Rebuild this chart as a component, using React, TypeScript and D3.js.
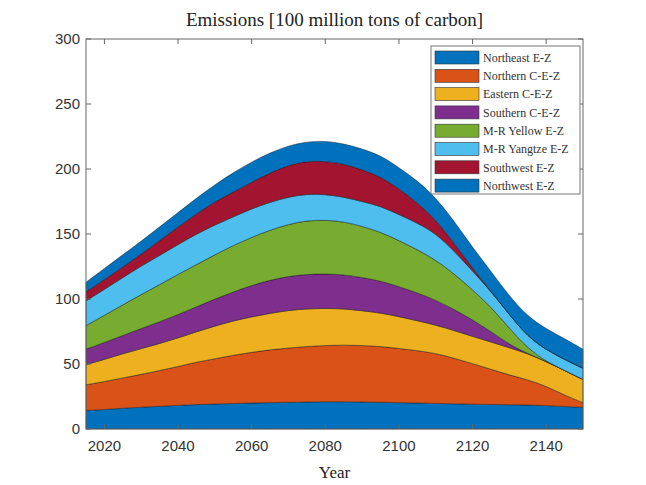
import React, { useEffect, useRef } from 'react';
import * as d3 from 'd3';

// emissions per economic zone, 100 million tons of carbon
const years = [2015, 2020, 2025, 2030, 2035, 2040, 2045, 2050, 2055, 2060, 2065, 2070, 2075, 2080,
  2085, 2090, 2095, 2100, 2105, 2110, 2115, 2120, 2125, 2130, 2135, 2140, 2145, 2150];
const northeast = [14.2, 15, 16, 16.8, 17.4, 18.2, 18.8, 19.2, 19.6, 20, 20.3, 20.5, 20.8, 21,
  21, 20.8, 20.5, 20.3, 20, 19.7, 19.4, 19.1, 18.9, 18.7, 18.5, 18, 17.3, 16.7];
const northern = [19.8, 21.5, 23.3, 25.2, 27.6, 29.8, 32.7, 34.8, 37.2, 39, 40.7, 41.8, 42.7, 43.3,
  43.6, 43.5, 43, 41.7, 40.3, 38.5, 35.1, 31.2, 27.1, 22.8, 19.5, 15, 8.7, 3.6];
const eastern = [15.5, 17, 18.7, 19.8, 20.8, 22, 23.3, 25.2, 26.4, 27.3, 28, 29, 29, 28.5,
  27.9, 26.7, 25.8, 24.5, 23, 21.8, 21.3, 20.9, 21, 21, 20, 19, 19, 17.9];
const southern = [12, 13, 14, 15.5, 16.7, 18, 19.2, 20.8, 22.3, 24.2, 25.5, 26.2, 26.5, 26.5,
  26.3, 25.5, 24.7, 23, 21.5, 19.2, 16.2, 12.8, 8, 2.5, 0, 0, 0, 0];
const yellowRiver = [18, 21, 23.5, 26.2, 28.5, 31, 32.5, 34, 35.7, 37, 38.5, 40, 41.3, 41.5,
  40.7, 39.5, 37.5, 35.5, 33.2, 30.8, 27.5, 23, 19, 12.5, 4, 0, 0, 0];
const yangtze = [19, 20, 21, 22, 22.5, 23, 23.5, 23, 22, 22, 21.5, 21, 20.5, 19.7,
  19, 19, 20, 20, 20.5, 20.5, 17.5, 14.5, 12, 10.5, 9, 9, 8.5, 8.5];
const southwest = [7, 7.5, 8, 9, 11.5, 13.5, 15.5, 18, 19, 20.5, 22.5, 24.5, 25.2, 25.5,
  25.5, 24.5, 22.5, 20, 15.5, 10.5, 6, 2, 0, 0, 0, 0, 0, 0];
const northwest = [7.4, 8.5, 9.5, 10, 10.5, 11, 12, 13, 15, 15.5, 15.5, 15, 15, 15.5,
  15.5, 16, 16.5, 16, 17, 17, 17, 16, 15.5, 14, 15.5, 16, 16, 14.6];

const zoneNames = ['Northeast E-Z', 'Northern C-E-Z', 'Eastern C-E-Z', 'Southern C-E-Z',
  'M-R Yellow E-Z', 'M-R Yangtze E-Z', 'Southwest E-Z', 'Northwest E-Z'];
const zoneColors = ['#0072BD', '#D95319', '#EDB120', '#7E2F8E', '#77AC30', '#4DBEEE', '#A2142F', '#0072BD'];
const xTicks = [2020, 2040, 2060, 2080, 2100, 2120, 2140];
const yTicks = [0, 50, 100, 150, 200, 250, 300];

const W = 646;
const H = 485;
const left = 86;
const right = 583;
const top = 39;
const bottom = 429;

export default function App() {
  const ref = useRef<SVGSVGElement>(null);

  useEffect(() => {
    const zones = [northeast, northern, eastern, southern, yellowRiver, yangtze, southwest, northwest];
    const rows = years.map((year, i) => {
      const row: any = { year };
      zoneNames.forEach((name, k) => (row[name] = zones[k][i]));
      return row;
    });

    const svg = d3.select(ref.current);
    svg.selectAll('*').remove();

    const x = d3.scaleLinear().domain([2015, 2150]).range([left, right]);
    const y = d3.scaleLinear().domain([0, 300]).range([bottom, top]);

    // basis keeps the stacked edges in order, so bands that run out stay closed
    const stacked = d3.stack().keys(zoneNames)(rows);
    const area = d3
      .area<any>()
      .curve(d3.curveBasis)
      .x(d => x(d.data.year))
      .y0(d => y(d[0]))
      .y1(d => y(d[1]));

    svg
      .append('g')
      .selectAll('path')
      .data(stacked)
      .join('path')
      .attr('d', area)
      .attr('fill', (d, i) => zoneColors[i])
      .attr('stroke', '#111')
      .attr('stroke-opacity', 0.75)
      .attr('stroke-width', 0.6)
      .attr('stroke-linejoin', 'round');

    // box with inward ticks on all four sides
    const axisColor = '#666';
    svg
      .append('rect')
      .attr('x', left)
      .attr('y', top)
      .attr('width', right - left)
      .attr('height', bottom - top)
      .attr('fill', 'none')
      .attr('stroke', axisColor)
      .attr('stroke-width', 1);

    const tl = 5;
    const ticks = svg.append('g').attr('stroke', axisColor).attr('stroke-width', 1);
    xTicks.forEach(t => {
      ticks.append('line').attr('x1', x(t)).attr('x2', x(t)).attr('y1', bottom).attr('y2', bottom - tl);
      ticks.append('line').attr('x1', x(t)).attr('x2', x(t)).attr('y1', top).attr('y2', top + tl);
    });
    yTicks.forEach(t => {
      ticks.append('line').attr('x1', left).attr('x2', left + tl).attr('y1', y(t)).attr('y2', y(t));
      ticks.append('line').attr('x1', right).attr('x2', right - tl).attr('y1', y(t)).attr('y2', y(t));
    });

    const sans = "'Liberation Sans', Arial, sans-serif";
    const serif = "'Liberation Serif', 'Times New Roman', serif";

    svg
      .append('g')
      .selectAll('text')
      .data(xTicks)
      .join('text')
      .attr('x', d => x(d))
      .attr('y', bottom + 22)
      .attr('text-anchor', 'middle')
      .attr('font-family', sans)
      .attr('font-size', 15)
      .attr('fill', '#333')
      .text(d => d);

    svg
      .append('g')
      .selectAll('text')
      .data(yTicks)
      .join('text')
      .attr('x', left - 6)
      .attr('y', d => y(d))
      .attr('dy', '0.36em')
      .attr('text-anchor', 'end')
      .attr('font-family', sans)
      .attr('font-size', 15)
      .attr('fill', '#333')
      .text(d => d);

    svg
      .append('text')
      .attr('x', (left + right) / 2)
      .attr('y', 26)
      .attr('text-anchor', 'middle')
      .attr('font-family', serif)
      .attr('font-size', 19)
      .attr('fill', '#222')
      .text('Emissions [100 million tons of carbon]');

    svg
      .append('text')
      .attr('x', (left + right) / 2)
      .attr('y', 478)
      .attr('text-anchor', 'middle')
      .attr('font-family', serif)
      .attr('font-size', 17)
      .attr('fill', '#222')
      .text('Year');

    // legend
    const lg = svg.append('g').attr('transform', 'translate(431, 46)');
    lg.append('rect')
      .attr('width', 149)
      .attr('height', 148)
      .attr('fill', '#fff')
      .attr('stroke', '#777')
      .attr('stroke-width', 1);
    const item = lg
      .selectAll('g.item')
      .data(zoneNames)
      .join('g')
      .attr('class', 'item')
      .attr('transform', (d, i) => `translate(4, ${5 + i * 18.3})`);
    item
      .append('rect')
      .attr('width', 44)
      .attr('height', 13)
      .attr('fill', (d, i) => zoneColors[i])
      .attr('stroke', '#333')
      .attr('stroke-width', 0.6);
    item
      .append('text')
      .attr('x', 48)
      .attr('y', 6.5)
      .attr('dy', '0.35em')
      .attr('font-family', serif)
      .attr('font-size', 12)
      .attr('fill', '#333')
      .text(d => d);
  }, []);

  return (
    <div style={{ position: 'fixed', left: 0, top: 0 }}>
      <svg ref={ref} width={W} height={H} style={{ display: 'block', background: '#fff' }} />
    </div>
  );
}
